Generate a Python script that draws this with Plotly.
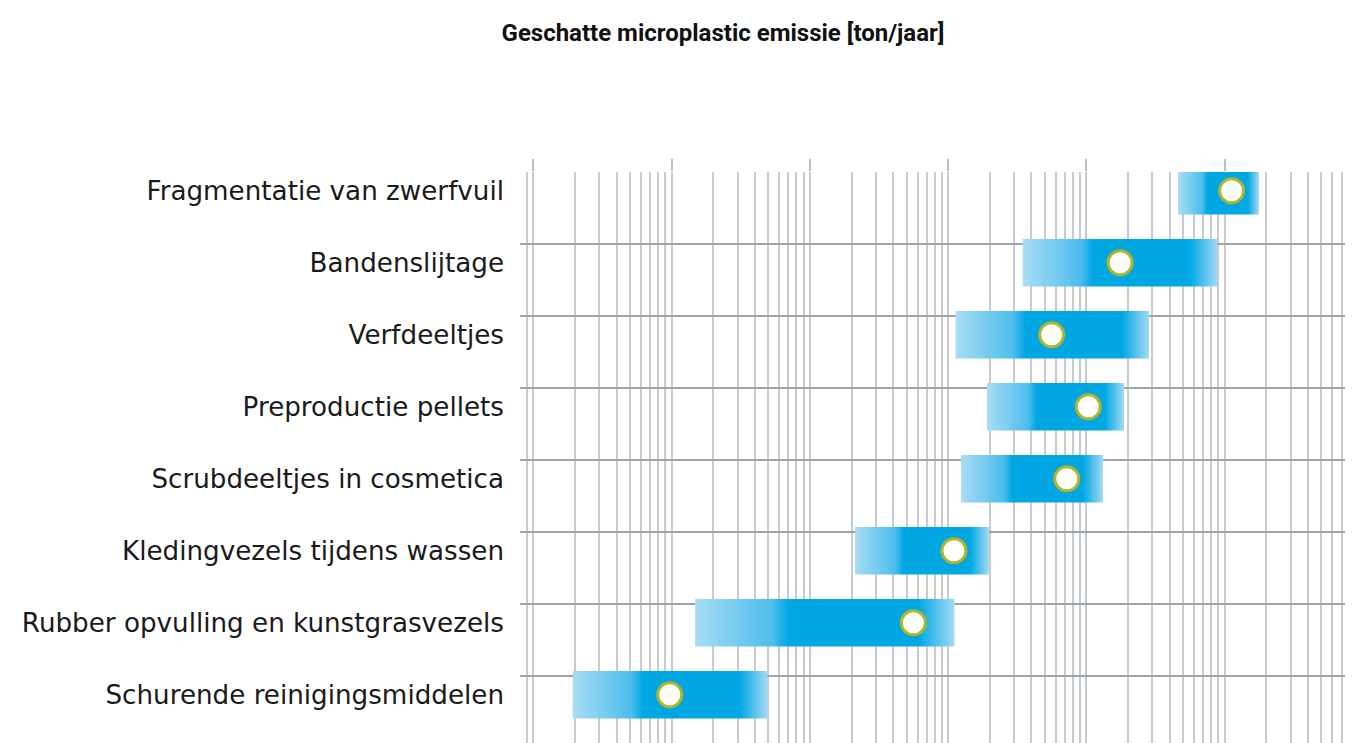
import plotly.graph_objects as go

# Sources, top to bottom
categories = [
    "Fragmentatie van zwerfvuil",
    "Bandenslijtage",
    "Verfdeeltjes",
    "Preproductie pellets",
    "Scrubdeeltjes in cosmetica",
    "Kledingvezels tijdens wassen",
    "Rubber opvulling en kunstgrasvezels",
    "Schurende reinigingsmiddelen",
]
# estimated emission range and best estimate [ton/jaar]
low = [45900, 3460, 1130, 1910, 1240, 212, 14.8, 1.93]
high = [176700, 88300, 28300, 18700, 13150, 1970, 1110, 49.2]
best = [112000, 17500, 5600, 10300, 7200, 1100, 560, 9.7]

BAR_HALF = 0.33
GRID_OFFSET = 0.26

bar_scale = [
    [0.0, "#a9dcf5"],
    [0.30, "#4cbdec"],
    [0.36, "#00a7e3"],
    [0.86, "#00a7e3"],
    [1.0, "#a3d9f4"],
]

fig = go.Figure()
for i, (lo, hi) in enumerate(zip(low, high)):
    fig.add_trace(
        go.Scatter(
            x=[lo, hi, hi, lo, lo],
            y=[i - BAR_HALF, i - BAR_HALF, i + BAR_HALF, i + BAR_HALF, i - BAR_HALF],
            mode="lines",
            fill="toself",
            fillgradient=dict(type="horizontal", colorscale=bar_scale),
            line=dict(width=0),
            hoverinfo="skip",
            showlegend=False,
        )
    )

fig.add_trace(
    go.Scatter(
        x=best,
        y=list(range(len(categories))),
        mode="markers",
        marker=dict(size=24, color="white", line=dict(color="#b0b52a", width=3)),
        text=categories,
        hovertemplate="%{text}: %{x:,.0f} ton/jaar<extra></extra>",
        showlegend=False,
    )
)

# invisible trace to carry the row grid on the second y axis
fig.add_trace(
    go.Scatter(x=[best[0]], y=[0], yaxis="y2", mode="markers",
               marker=dict(opacity=0), hoverinfo="skip", showlegend=False)
)

n = len(categories)
y_range = [n - 1 + 0.67, -GRID_OFFSET]

# page body has an 8px margin, so the figure is 8px smaller each way
fig.update_layout(
    width=1345,
    height=735,
    margin=dict(l=512, r=0, t=164, b=0),
    paper_bgcolor="white",
    plot_bgcolor="white",
    font=dict(family="DejaVu Sans, Arial, sans-serif", color="#1a1a1a"),
    title=dict(
        text="<b>Geschatte microplastic emissie [ton/jaar]</b>",
        x=0.5316,
        xref="container",
        xanchor="center",
        y=0.967,
        yref="container",
        yanchor="middle",
        font=dict(family="Roboto, Arial, sans-serif", size=24, color="#111111"),
    ),
    xaxis=dict(
        type="log",
        range=[-0.096, 5.927],
        side="top",
        dtick=1,
        showticklabels=False,
        ticks="outside",
        ticklen=12,
        tickwidth=1.5,
        tickcolor="#b9bec3",
        showgrid=True,
        gridcolor="#c6cbd0",
        gridwidth=1.5,
        minor=dict(dtick="D1", showgrid=True, gridcolor="#c6cbd0", gridwidth=1.5),
        zeroline=False,
        showline=False,
    ),
    yaxis=dict(
        range=y_range,
        tickvals=list(range(n)),
        ticktext=categories,
        showgrid=False,
        zeroline=False,
        ticklabelstandoff=15,
        tickfont=dict(size=26.2, color="#1a1a1a"),
    ),
    yaxis2=dict(
        overlaying="y",
        range=y_range,
        tickvals=[i - GRID_OFFSET for i in range(n)],
        showticklabels=False,
        showgrid=True,
        gridcolor="#9ea3a7",
        gridwidth=1.5,
        zeroline=False,
    ),
)

fig.write_html("out.html")
